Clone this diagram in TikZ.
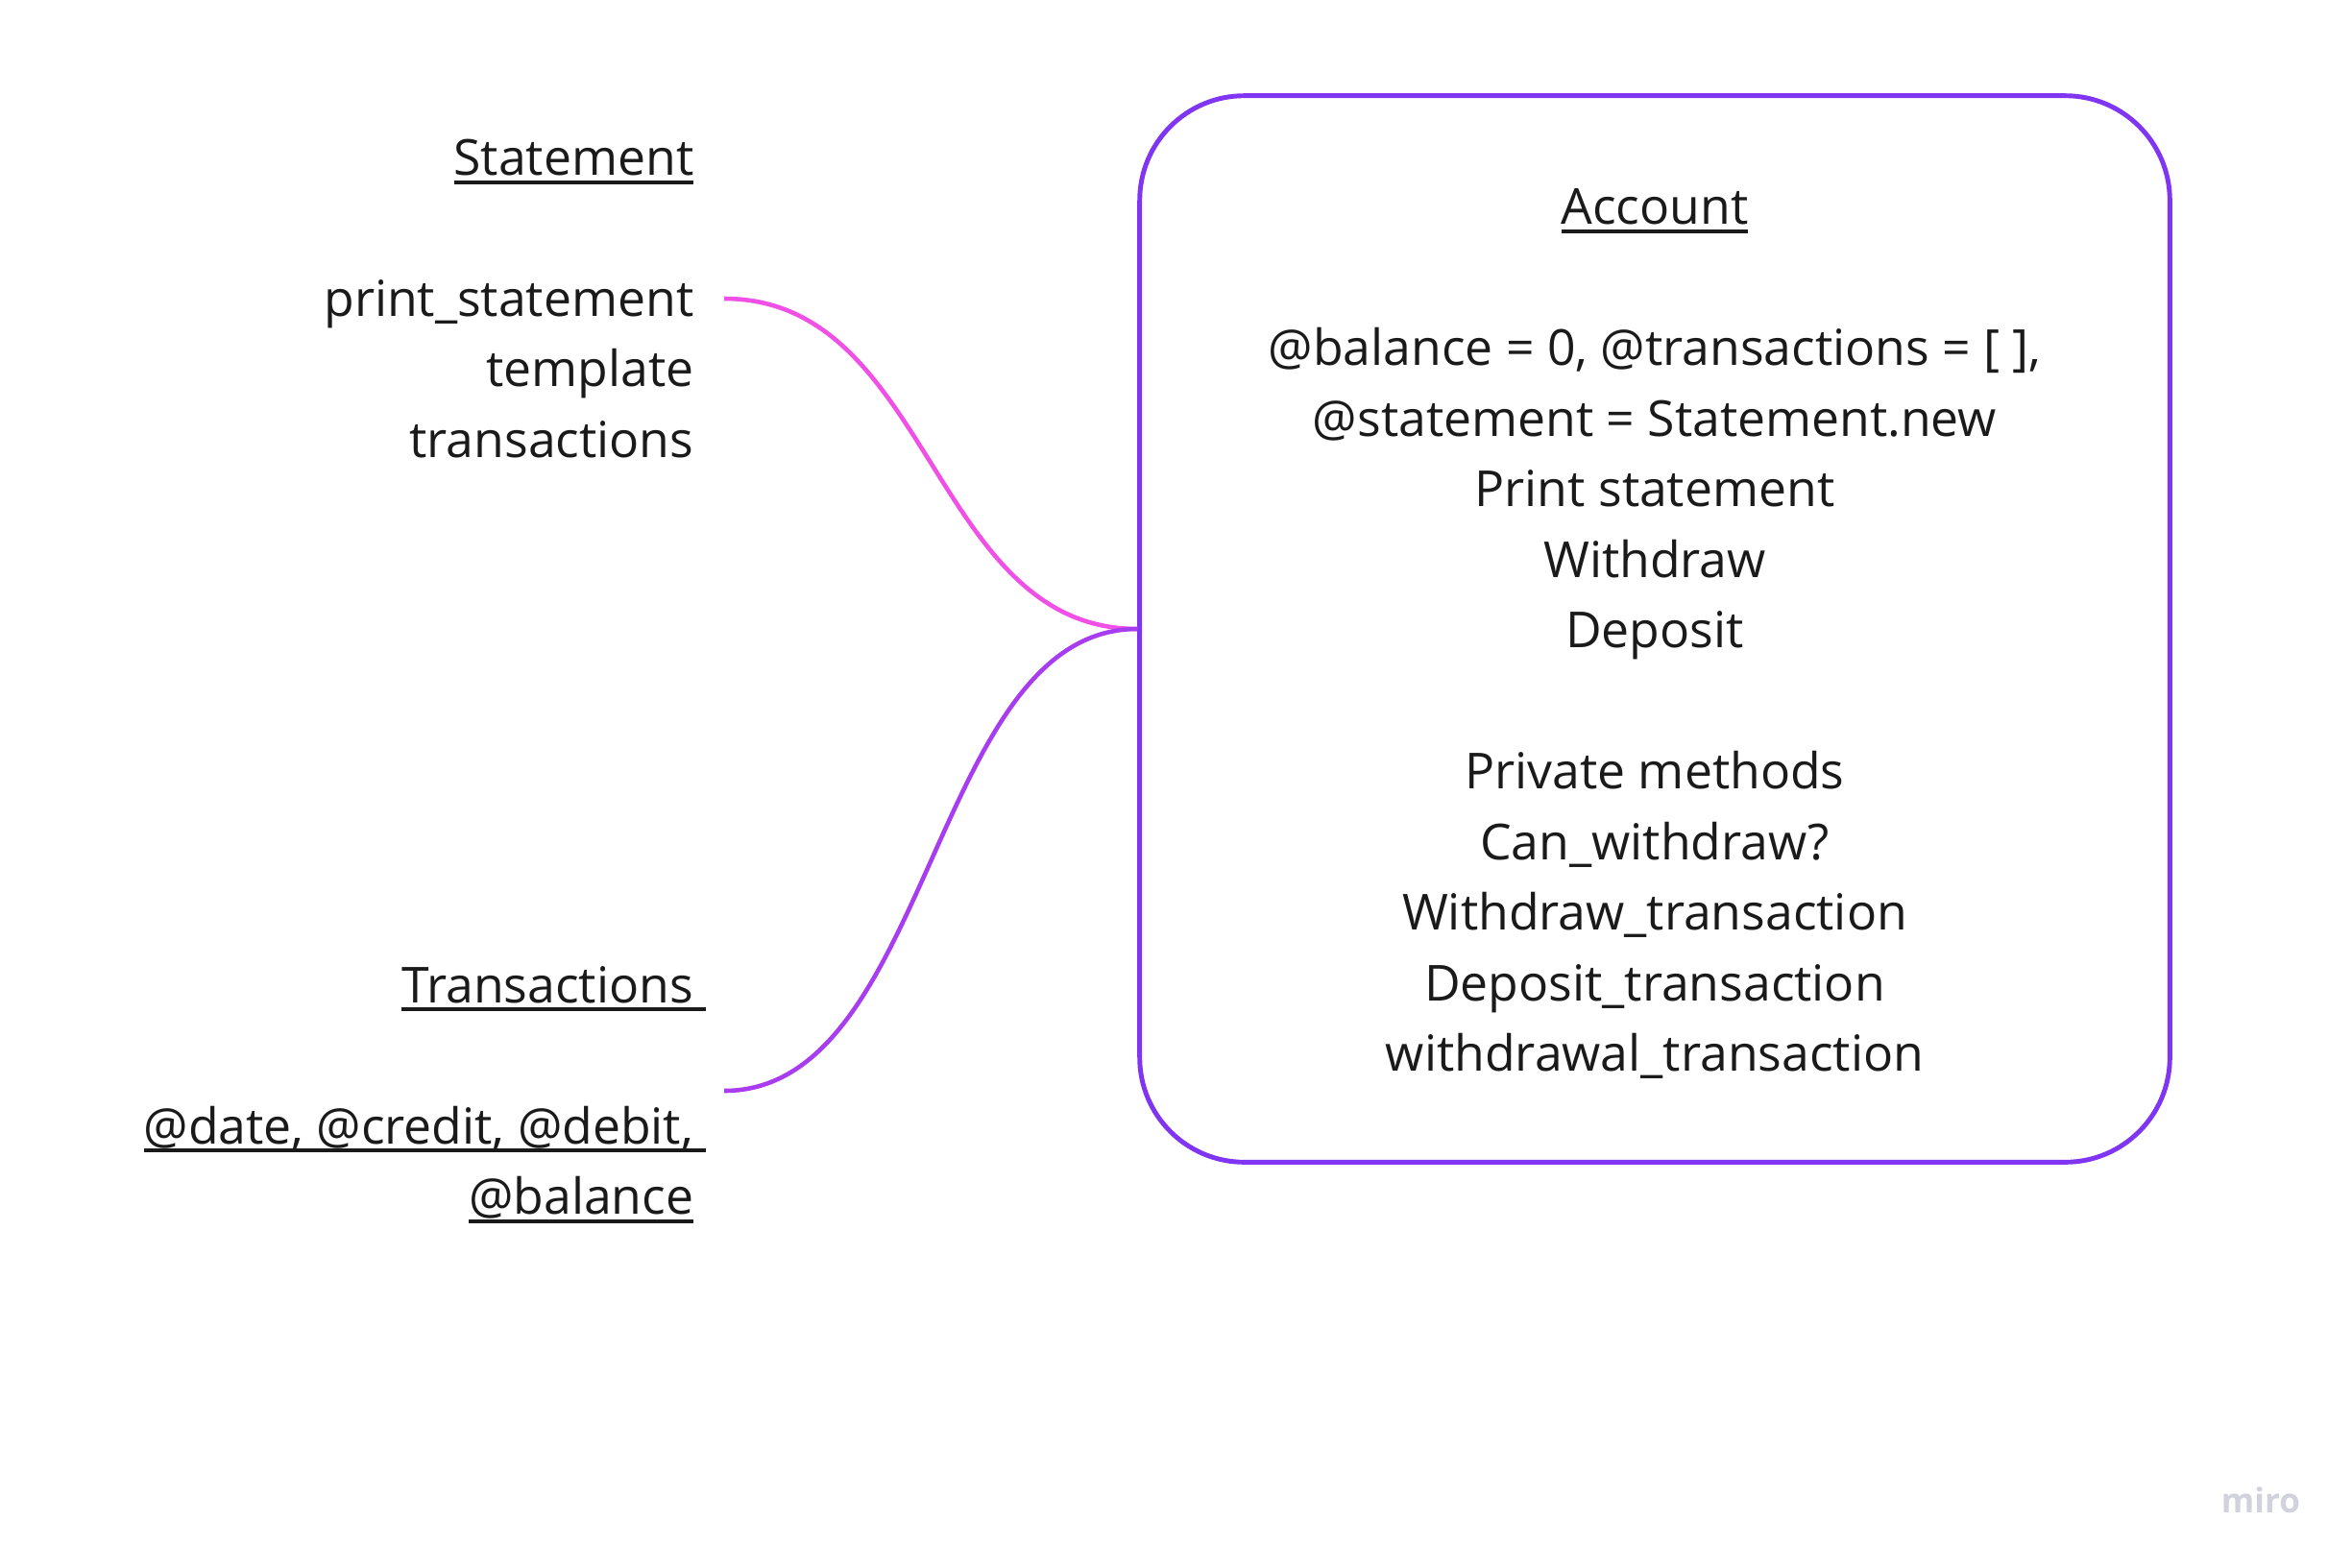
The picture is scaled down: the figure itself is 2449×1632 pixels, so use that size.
\documentclass[tikz,border=0pt]{standalone}
\usepackage{fontspec}
\setmainfont{Open Sans}
\definecolor{boxviolet}{HTML}{7F35F2}
\definecolor{linkpink}{HTML}{F050E6}
\definecolor{linkpurple}{HTML}{A83CF0}
\definecolor{logogrey}{HTML}{D2D2DC}
\definecolor{txt}{HTML}{1A1A1A}
\newcommand\ulx[1]{\setbox0\hbox{#1}\rlap{\rule[-2.6pt]{\wd0}{1.1pt}}\box0}
\begin{document}
\begin{tikzpicture}[x=0.01cm,y=-0.01cm,
  txtstyle/.style={font=\fontsize{14.7}{20.9}\selectfont, text=txt, inner sep=0pt},
  classbox/.style={draw=boxviolet, line width=1.4pt, rounded corners=31pt,
    minimum width=10.72cm, minimum height=11.1cm, inner sep=0pt},
  link/.style={line width=1.3pt}]
\useasboundingbox (0,0) rectangle (2449,1632);
\node[classbox] (accbox) at (1723,655) {};
\node[txtstyle, align=center] (acct) at (1723,660) {\ulx{Account}\\[20.9pt]
@balance = 0, @transactions = [ ],\\
@statement = Statement.new\\
Print statement\\
Withdraw\\
Deposit\\[20.9pt]
Private methods\\
Can\_withdraw?\\
Withdraw\_transaction\\
Deposit\_transaction\\
withdrawal\_transaction};
\node[txtstyle, align=right, anchor=east] (stmt) at (723,311) {\ulx{Statement}\\[20.9pt]
print\_statement\\
template\\
transactions};
\node[txtstyle, align=right, anchor=east] (trans) at (736,1140) {\ulx{Transactions\ }\\[20.9pt]
\ulx{@date, @credit, @debit,\ }\\
\ulx{@balance}\hspace*{3.7pt}};
\draw[link, linkpink] ([xshift=0.31cm]stmt.east) .. controls (970,311) and (970,655) .. (accbox.west);
\draw[link, linkpurple] ([xshift=0.18cm,yshift=0.04cm]trans.east) .. controls (970,1136) and (970,655) .. (accbox.west);
\node[font=\bfseries\fontsize{10}{12}\selectfont, text=logogrey, inner sep=0pt] (logo) at (2354,1562) {miro};
\end{tikzpicture}
\end{document}
